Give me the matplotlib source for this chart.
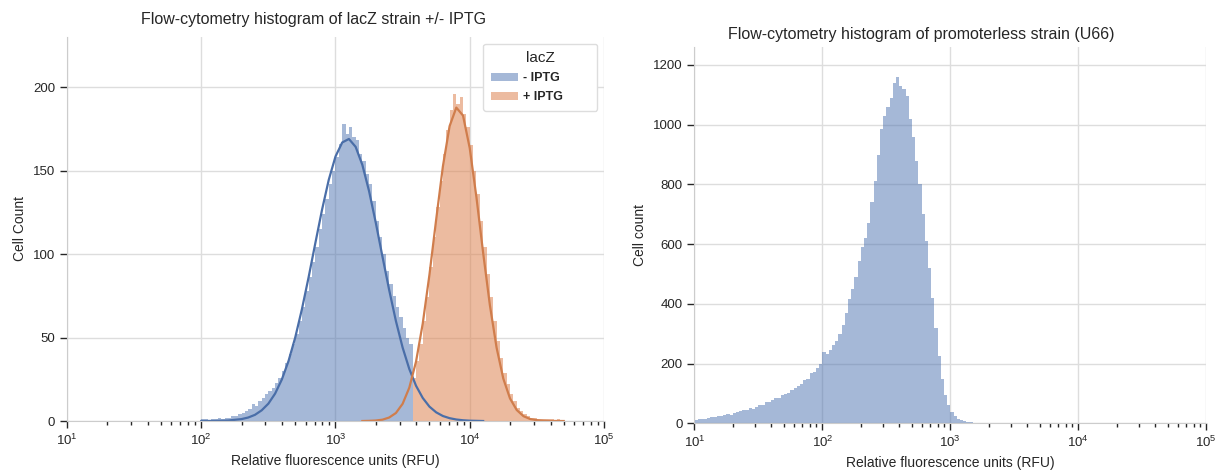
import numpy as np
import matplotlib
matplotlib.use("Agg")
import matplotlib.pyplot as plt

# histogram bins are 0.025 decade wide, given by the log10 of the first edge
bin_step = 0.025

# lacZ strain, - IPTG (counts per bin)
minus_start = 2.0
minus_counts = [1, 1, 0, 1, 1, 2, 1, 2, 2, 3, 3, 4, 5, 6, 7, 10, 9, 12, 14, 16,
                18, 20, 23, 26, 30, 35, 40, 46, 52, 60, 68, 78, 86, 95, 104, 115,
                124, 133, 142, 150, 158, 166, 178, 172, 176, 170, 168, 160, 156,
                148, 142, 132, 120, 110, 100, 90, 82, 75, 68, 62, 56, 50, 46]

# lacZ strain, + IPTG
plus_start = 3.575
plus_counts = [26, 36, 46, 60, 74, 92, 110, 128, 144, 160, 174, 186, 196, 190,
               194, 184, 176, 165, 150, 136, 120, 104, 88, 74, 60, 48, 38, 29,
               22, 16, 12, 8, 6, 4, 3, 2, 2, 1, 1, 1, 1, 1, 0, 1, 0]

# promoterless strain (U66)
u66_start = 1.0
u66_counts = [12, 14, 13, 16, 18, 20, 22, 25, 24, 28, 30, 29, 34, 37, 40, 43,
              45, 50, 48, 56, 60, 62, 70, 72, 78, 85, 84, 95, 98, 102, 110, 118,
              126, 132, 145, 150, 168, 172, 185, 200, 240, 232, 245, 262, 275,
              300, 330, 370, 415, 450, 490, 545, 590, 620, 670, 740, 810, 900,
              985, 1030, 1060, 1090, 1140, 1160, 1130, 1120, 1095, 1020, 960,
              880, 800, 700, 610, 520, 420, 320, 225, 150, 95, 60, 38, 25, 16,
              10, 7, 5, 3, 2]

# fitted curves (log10 RFU, cell count)
minus_fit_log = [2.00, 2.10, 2.20, 2.30, 2.35, 2.40, 2.45, 2.50, 2.55, 2.60, 2.65,
                 2.70, 2.75, 2.80, 2.85, 2.90, 2.95, 3.00, 3.05, 3.10, 3.15, 3.20,
                 3.25, 3.30, 3.35, 3.40, 3.45, 3.50, 3.55, 3.60, 3.65, 3.70, 3.75,
                 3.80, 3.85, 3.90, 3.95, 4.00, 4.05, 4.10]
minus_fit = [0.0, 0.07, 0.3, 1.15, 2.1, 3.7, 6.4, 10.4, 16.4, 24.8, 35.9, 50.0,
             67.0, 86.2, 106.6, 126.6, 144.5, 158.4, 166.8, 168.9, 164.2, 153.4,
             137.7, 118.8, 98.4, 78.4, 59.9, 44.0, 31.1, 21.1, 13.8, 8.6, 5.2,
             3.0, 1.7, 0.9, 0.45, 0.2, 0.1, 0.0]
plus_fit_log = [3.20, 3.25, 3.30, 3.35, 3.40, 3.45, 3.50, 3.55, 3.60, 3.65, 3.70,
                3.75, 3.80, 3.85, 3.90, 3.95, 4.00, 4.05, 4.10, 4.15, 4.20, 4.25,
                4.30, 4.35, 4.40, 4.45, 4.50, 4.55, 4.60, 4.70]
plus_fit = [0.0, 0.1, 0.3, 0.8, 2.1, 4.8, 10.3, 20.0, 35.6, 58.4, 87.7, 120.7,
            152.5, 176.6, 187.7, 182.9, 163.4, 133.9, 100.6, 69.4, 43.9, 25.4,
            13.5, 6.6, 2.9, 1.2, 0.5, 0.2, 0.05, 0.0]

plt.rcParams['font.family'] = ['Liberation Sans', 'DejaVu Sans']
plt.rcParams['axes.edgecolor'] = '#cccccc'
plt.rcParams['xtick.color'] = '#262626'
plt.rcParams['ytick.color'] = '#262626'
plt.rcParams['xtick.labelcolor'] = '#262626'
plt.rcParams['ytick.labelcolor'] = '#262626'

blue = '#4c72b0'
orange = '#dd8452'


def edges(start, counts):
    return 10 ** (start + bin_step * np.arange(len(counts) + 1))


def draw_hist(ax, start, counts, color, alpha, label=None):
    e = edges(start, counts)
    centers = np.sqrt(e[:-1] * e[1:])
    ax.hist(centers, bins=e, weights=counts, color=color, alpha=alpha,
            linewidth=0, label=label)


def style(ax, ymax, yticks):
    ax.set_xscale('log')
    ax.set_xlim(10, 1e5)
    ax.set_ylim(0, ymax)
    ax.set_yticks(yticks)
    ax.grid(True, color='#dddddd', linewidth=1.0)
    ax.set_axisbelow(True)
    for s in ['top', 'right']:
        ax.spines[s].set_visible(False)
    ax.tick_params(axis='both', which='major', labelsize=9.5, length=5, width=1)
    ax.tick_params(axis='x', which='minor', length=3, width=1)
    ax.set_xlabel('Relative fluorescence units (RFU)', fontsize=10, color='#262626')


fig = plt.figure(figsize=(12.16, 4.73), dpi=100)
ax1 = fig.add_axes([0.0551, 0.1099, 0.4416, 0.812])
ax2 = fig.add_axes([0.571, 0.105, 0.421, 0.7955])

draw_hist(ax1, minus_start, minus_counts, blue, 0.5, '- IPTG')
draw_hist(ax1, plus_start, plus_counts, orange, 0.55, '+ IPTG')
ax1.plot(10 ** np.array(minus_fit_log), minus_fit, color='#4a6ea8', lw=1.6)
ax1.plot(10 ** np.array(plus_fit_log), plus_fit, color='#d07d4c', lw=1.6)
style(ax1, 230, [0, 50, 100, 150, 200])
ax1.set_ylabel('Cell Count', fontsize=10, color='#262626')
leg = ax1.legend(title='lacZ', loc='upper right', fontsize=9, title_fontsize=11,
                 bbox_to_anchor=(0.775, 0.5, 0.212, 0.482), mode='expand',
                 handlelength=2.2, handleheight=0.6, handletextpad=0.4,
                 borderpad=0.6, borderaxespad=0, labelspacing=0.55,
                 framealpha=1, edgecolor='#dddddd')
leg._legend_box.align = 'center'
for t in leg.get_texts():
    t.set_fontweight('bold')
    t.set_color('#262626')
leg.get_title().set_color('#262626')

draw_hist(ax2, u66_start, u66_counts, blue, 0.5)
style(ax2, 1260, [0, 200, 400, 600, 800, 1000, 1200])
ax2.set_ylabel('Cell count', fontsize=10, color='#262626')

fig.text(0.258, 0.958, 'Flow-cytometry histogram of lacZ strain +/- IPTG',
         ha='center', va='center', fontsize=11.5, color='#262626')
fig.text(0.758, 0.928, 'Flow-cytometry histogram of promoterless strain (U66)',
         ha='center', va='center', fontsize=11.5, color='#262626')

fig.savefig('out.png', dpi=100)
